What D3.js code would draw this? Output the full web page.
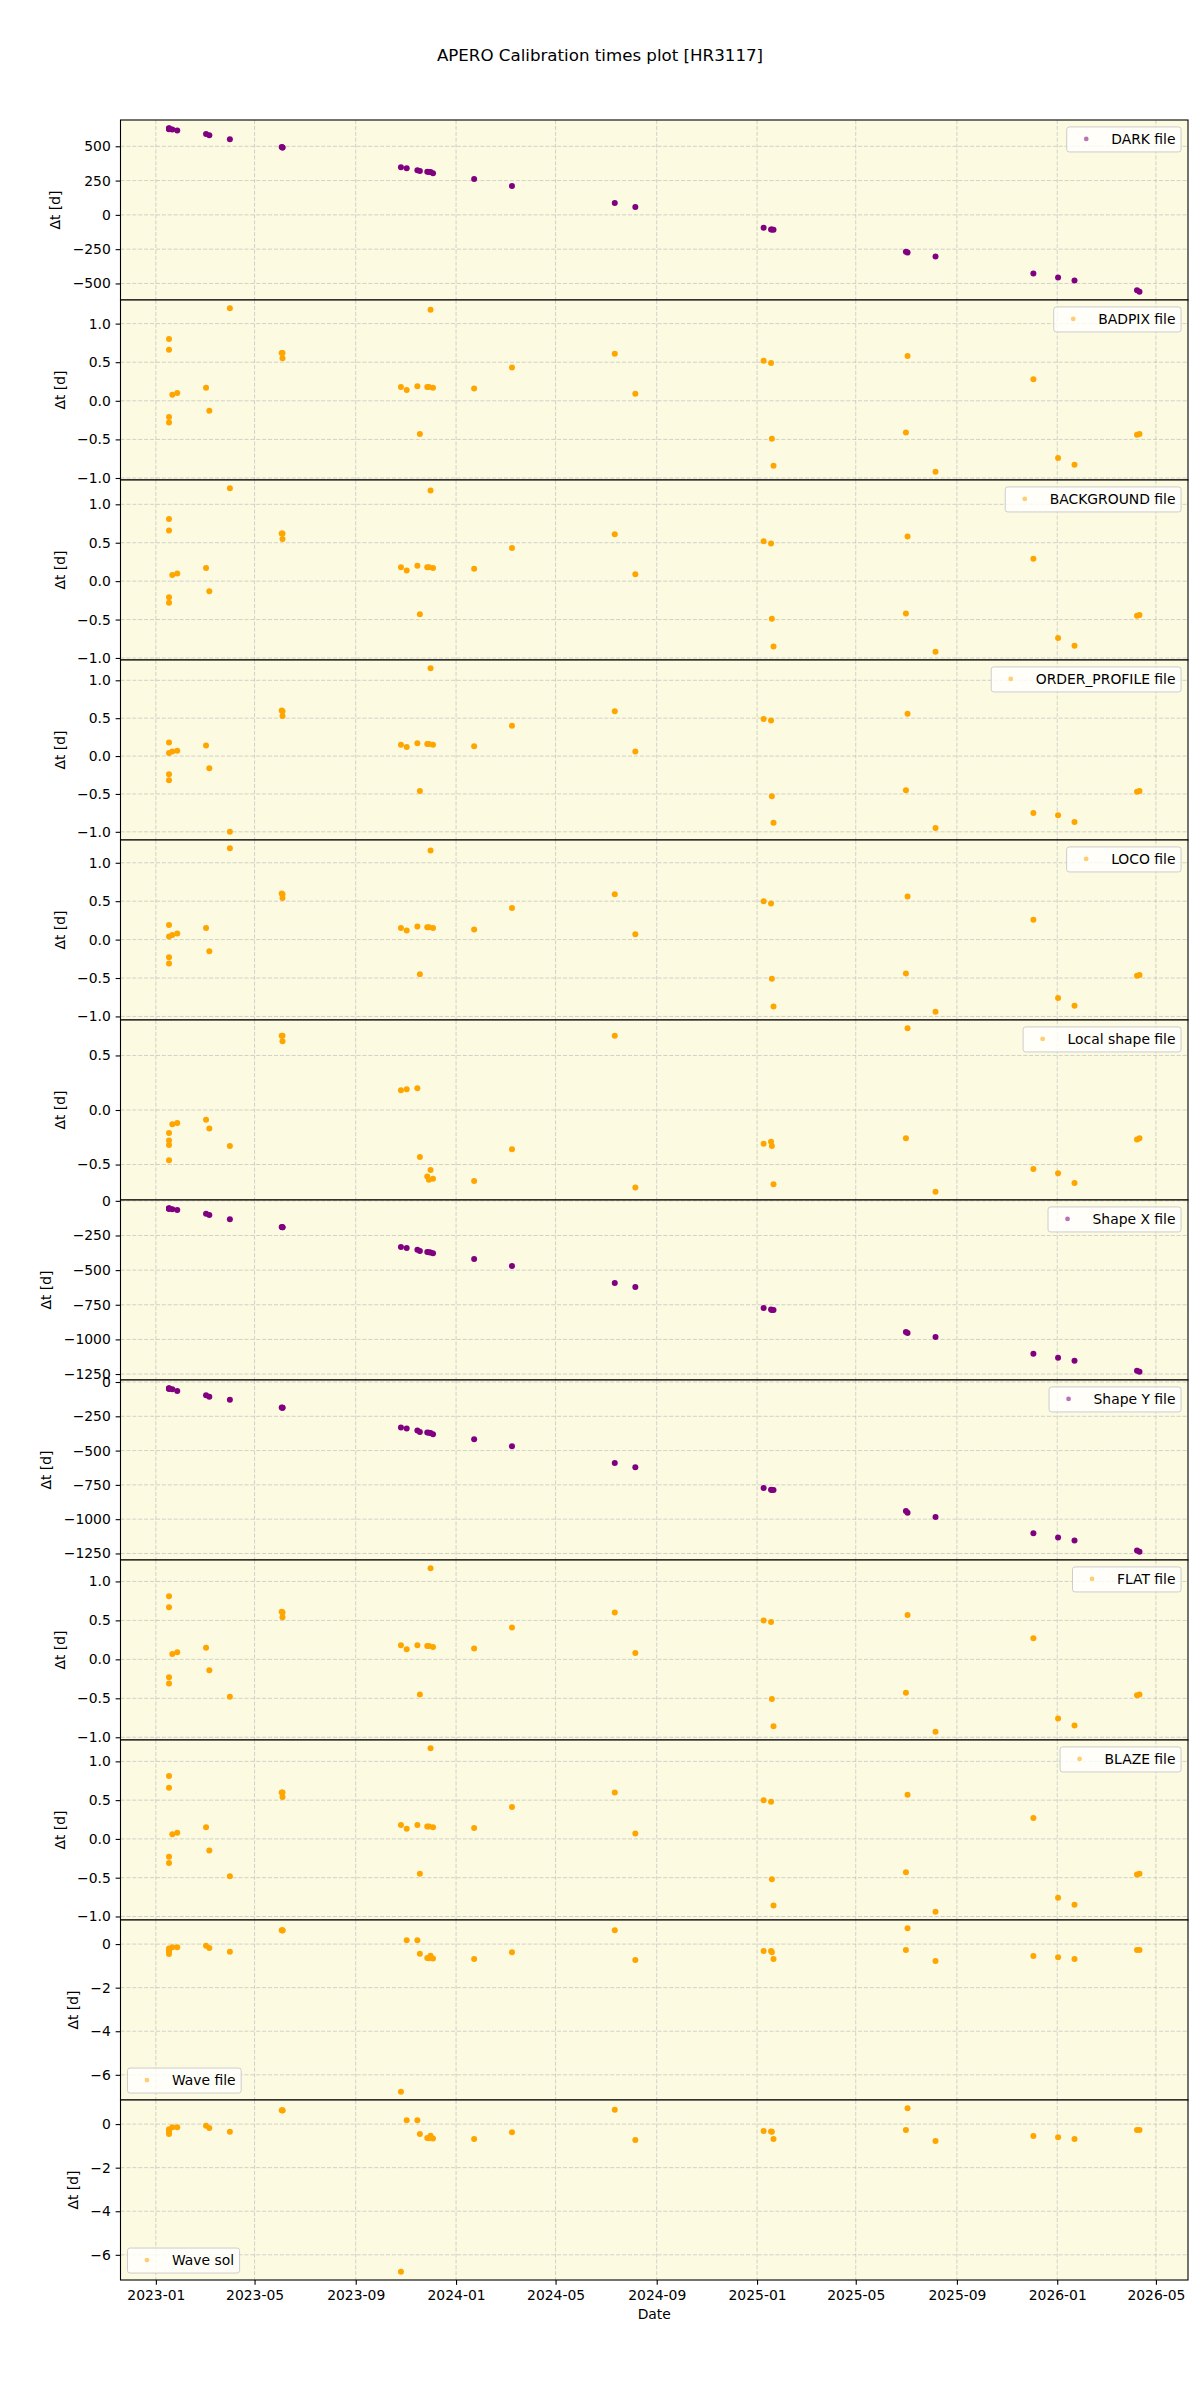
<!DOCTYPE html>
<html><head><meta charset="utf-8">
<script src="https://cdn.jsdelivr.net/npm/d3@7"></script>
<style>
body{margin:0;background:#fff}
svg{display:block}
text{font-family:"DejaVu Sans",sans-serif;fill:#000}
</style>
</head><body>
<svg id="chart" width="1200" height="2400"></svg>
<script>
// ---------- DATA ----------
const obsDates = [
  "2023-01-17","2023-01-17","2023-01-17","2023-01-17","2023-01-21","2023-01-27",
  "2023-03-03","2023-03-07","2023-04-01","2023-06-03","2023-06-04","2023-06-04",
  "2023-10-26","2023-11-02","2023-11-15","2023-11-18","2023-11-27","2023-11-29",
  "2023-12-01","2023-12-04","2024-01-23","2024-03-09","2024-07-12","2024-08-06",
  "2025-01-09","2025-01-18","2025-01-19","2025-01-21","2025-07-01","2025-07-03",
  "2025-08-06","2025-12-03","2026-01-02","2026-01-22","2026-04-08","2026-04-11"
];
const darkFile = [632,629,627,625,623,616,589,580,551,494,492,491,348,340,326,319,314,313,312,304,261,210,87,58,-94,-106,-107,-109,-268,-275,-304,-428,-457,-478,-549,-561];
const badpixFile = [0.80,0.66,-0.21,-0.28,0.08,0.10,0.17,-0.13,1.20,0.62,0.62,0.55,0.18,0.14,0.19,-0.43,0.18,0.18,1.18,0.17,0.16,0.43,0.61,0.09,0.52,0.49,-0.49,-0.84,-0.41,0.58,-0.92,0.28,-0.74,-0.83,-0.44,-0.43];
const backgroundFile = [0.81,0.66,-0.21,-0.28,0.08,0.10,0.17,-0.13,1.21,0.62,0.62,0.55,0.18,0.14,0.20,-0.43,0.18,0.18,1.18,0.17,0.16,0.43,0.61,0.09,0.52,0.49,-0.49,-0.85,-0.42,0.58,-0.92,0.29,-0.74,-0.84,-0.45,-0.44];
const orderProfileFile = [0.18,0.04,-0.24,-0.32,0.06,0.07,0.14,-0.16,-1.00,0.60,0.59,0.53,0.15,0.12,0.17,-0.46,0.16,0.16,1.16,0.15,0.13,0.40,0.59,0.06,0.49,0.47,-0.53,-0.88,-0.45,0.56,-0.95,-0.75,-0.78,-0.87,-0.47,-0.46];
const locoFile = [0.19,0.04,-0.23,-0.31,0.06,0.08,0.15,-0.15,1.19,0.60,0.59,0.54,0.15,0.12,0.17,-0.45,0.16,0.16,1.16,0.15,0.13,0.41,0.59,0.07,0.50,0.47,-0.51,-0.87,-0.44,0.56,-0.94,0.26,-0.76,-0.86,-0.47,-0.46];
const localShapeFile = [-0.21,-0.28,-0.32,-0.46,-0.13,-0.12,-0.09,-0.17,-0.33,0.68,0.68,0.63,0.18,0.19,0.20,-0.43,-0.61,-0.64,-0.55,-0.63,-0.65,-0.36,0.68,-0.71,-0.31,-0.29,-0.33,-0.68,-0.26,0.75,-0.75,-0.54,-0.58,-0.67,-0.27,-0.26];
const shapeXFile = [-53,-55,-57,-58,-60,-67,-94,-103,-132,-189,-190,-191,-334,-341,-353,-362,-370,-371,-372,-379,-420,-470,-593,-622,-773,-785,-787,-788,-946,-953,-982,-1104,-1133,-1154,-1226,-1234];
const shapeYFile = [-45,-47,-49,-50,-52,-65,-97,-107,-129,-186,-187,-188,-331,-339,-354,-364,-368,-370,-371,-381,-418,-468,-590,-622,-772,-785,-787,-788,-941,-954,-984,-1103,-1133,-1155,-1228,-1238];
const flatFile = [0.81,0.67,-0.23,-0.31,0.07,0.09,0.15,-0.14,-0.48,0.61,0.60,0.54,0.18,0.13,0.18,-0.45,0.17,0.17,1.17,0.16,0.14,0.41,0.60,0.08,0.50,0.48,-0.51,-0.86,-0.43,0.57,-0.93,0.27,-0.76,-0.85,-0.46,-0.45];
const blazeFile = [0.81,0.66,-0.23,-0.31,0.06,0.08,0.15,-0.15,-0.48,0.60,0.60,0.54,0.18,0.13,0.18,-0.45,0.16,0.16,1.17,0.15,0.14,0.41,0.60,0.07,0.50,0.48,-0.52,-0.86,-0.43,0.57,-0.94,0.27,-0.76,-0.85,-0.46,-0.45];
const waveFile = [-0.20,-0.28,-0.35,-0.46,-0.15,-0.15,-0.08,-0.18,-0.35,0.63,0.64,0.62,-6.78,0.18,0.18,-0.44,-0.64,-0.65,-0.53,-0.66,-0.69,-0.37,0.64,-0.73,-0.32,-0.32,-0.37,-0.69,-0.27,0.73,-0.78,-0.55,-0.60,-0.69,-0.27,-0.27];
const waveSol = [-0.24,-0.30,-0.36,-0.46,-0.15,-0.15,-0.08,-0.18,-0.35,0.64,0.64,0.62,-6.78,0.18,0.18,-0.46,-0.64,-0.65,-0.53,-0.66,-0.69,-0.37,0.66,-0.73,-0.32,-0.34,-0.35,-0.69,-0.27,0.73,-0.78,-0.55,-0.60,-0.69,-0.27,-0.27];

const panelLabels = ["DARK file","BADPIX file","BACKGROUND file","ORDER_PROFILE file","LOCO file","Local shape file","Shape X file","Shape Y file","FLAT file","BLAZE file","Wave file","Wave sol"];
const ticksDark = [-500,-250,0,250,500];
const ticksUnit = [-1,-0.5,0,0.5,1];
const ticksLocal = [-0.5,0,0.5];
const ticksShape = [-1250,-1000,-750,-500,-250,0];
const ticksWave = [-6,-4,-2,0];
const title = "APERO Calibration times plot [HR3117]";
const yLabel = "Δt [d]";
const xLabel = "Date";

// ---------- STYLE / LAYOUT ----------
const PURPLE = "#800080", ORANGE = "#FFA500", BG = "#fcfbe2";
const L = 120.5, R = 1188, T = 120, PH = 180;
const FS = 13.9;

const panels = [
  {label: panelLabels[0], values: darkFile, color: PURPLE, ticks: ticksDark, loc: "ur"},
  {label: panelLabels[1], values: badpixFile, color: ORANGE, ticks: ticksUnit, loc: "ur"},
  {label: panelLabels[2], values: backgroundFile, color: ORANGE, ticks: ticksUnit, loc: "ur"},
  {label: panelLabels[3], values: orderProfileFile, color: ORANGE, ticks: ticksUnit, loc: "ur"},
  {label: panelLabels[4], values: locoFile, color: ORANGE, ticks: ticksUnit, loc: "ur"},
  {label: panelLabels[5], values: localShapeFile, color: ORANGE, ticks: ticksLocal, loc: "ur"},
  {label: panelLabels[6], values: shapeXFile, color: PURPLE, ticks: ticksShape, loc: "ur"},
  {label: panelLabels[7], values: shapeYFile, color: PURPLE, ticks: ticksShape, loc: "ur"},
  {label: panelLabels[8], values: flatFile, color: ORANGE, ticks: ticksUnit, loc: "ur"},
  {label: panelLabels[9], values: blazeFile, color: ORANGE, ticks: ticksUnit, loc: "ur"},
  {label: panelLabels[10], values: waveFile, color: ORANGE, ticks: ticksWave, loc: "ll"},
  {label: panelLabels[11], values: waveSol, color: ORANGE, ticks: ticksWave, loc: "ll"}
];

const svg = d3.select("#chart");
svg.append("rect").attr("width",1200).attr("height",2400).attr("fill","#fff");

const parse = d3.utcParse("%Y-%m-%d");
const dates = obsDates.map(parse);
const xExt = d3.extent(dates);
const xPad = (xExt[1] - xExt[0]) * 0.05;
const x = d3.scaleUtc().domain([new Date(+xExt[0] - xPad), new Date(+xExt[1] + xPad)]).range([L, R]);
const xTicks = x.ticks(d3.utcMonth.every(4));

svg.append("text").attr("x", 600).attr("y", 60.5).attr("text-anchor","middle")
  .style("font-size","16.67px").text(title);

panels.forEach((p, i) => {
  const top = T + i * PH, bot = top + PH;
  const ext = d3.extent(p.values);
  const pad = (ext[1] - ext[0]) * 0.05;
  const y = d3.scaleLinear().domain([ext[0] - pad, ext[1] + pad]).range([bot, top]);
  const g = svg.append("g");

  g.append("rect").attr("x", L).attr("y", top).attr("width", R - L).attr("height", PH).attr("fill", BG);

  const grid = g.append("g").attr("stroke", "#b0b0b0").attr("stroke-opacity", 0.7)
    .attr("stroke-width", 0.8).attr("stroke-dasharray", "4.1,1.8");
  grid.selectAll("line.v").data(xTicks).join("line").attr("class","v")
    .attr("x1", d => x(d)).attr("x2", d => x(d)).attr("y1", top).attr("y2", bot);
  grid.selectAll("line.h").data(p.ticks).join("line").attr("class","h")
    .attr("x1", L).attr("x2", R).attr("y1", d => y(d)).attr("y2", d => y(d));

  g.append("g").selectAll("circle").data(p.values).join("circle")
    .attr("cx", (d, j) => x(dates[j])).attr("cy", d => y(d)).attr("r", 3)
    .attr("fill", p.color);

  const step = p.ticks[1] - p.ticks[0];
  const fmt = step < 1 ? d3.format(".1f") : d3.format("d");
  const ax = g.append("g").attr("transform", `translate(${L},0)`)
    .call(d3.axisLeft(y).tickValues(p.ticks).tickSize(4.86).tickPadding(4.86).tickFormat(fmt));
  ax.select(".domain").remove();
  ax.selectAll(".tick line").attr("stroke", "#000").attr("stroke-width", 1.1);
  ax.selectAll(".tick text").style("font-size", FS + "px").style("font-family", '"DejaVu Sans",sans-serif').attr("fill","#000");

  let minLeft = 1e9;
  ax.selectAll(".tick text").each(function(){ const b = this.getBBox(); minLeft = Math.min(minLeft, L + b.x); });
  const lx = minLeft - 12.5, ly = (top + bot) / 2;
  g.append("text").attr("transform", `translate(${lx},${ly}) rotate(-90)`)
    .attr("text-anchor", "middle").style("font-size", FS + "px").text(yLabel);

  g.append("rect").attr("x", L).attr("y", top).attr("width", R - L).attr("height", PH)
    .attr("fill", "none").attr("stroke", "#000").attr("stroke-width", 1.1);

  // legend
  const lg = g.append("g");
  const txt = lg.append("text").style("font-size", FS + "px").text(p.label);
  const tw = txt.node().getComputedTextLength();
  const bw = 5.56 + 27.8 + 11.1 + tw + 5.56, bh = 25;
  let bx, by;
  if (p.loc === "ur") { bx = R - 6.95 - bw; by = top + 6.95; }
  else { bx = L + 6.95; by = bot - 6.95 - bh; }
  lg.insert("rect", "text").attr("x", bx).attr("y", by).attr("width", bw).attr("height", bh)
    .attr("rx", 2.5).attr("fill", "#fff").attr("fill-opacity", 0.8)
    .attr("stroke", "#cccccc").attr("stroke-width", 1);
  lg.insert("circle", "text").attr("cx", bx + 19.5).attr("cy", by + bh / 2 - 0.5).attr("r", 2.4)
    .attr("fill", p.color).attr("fill-opacity", 0.55);
  txt.attr("x", bx + 44.5).attr("y", by + 17);
});

// bottom x axis
const bottom = T + panels.length * PH;
const xa = svg.append("g").attr("transform", `translate(0,${bottom})`)
  .call(d3.axisBottom(x).tickValues(xTicks).tickSize(4.86).tickPadding(4.86).tickFormat(d3.utcFormat("%Y-%m")));
xa.select(".domain").remove();
xa.selectAll(".tick line").attr("stroke", "#000").attr("stroke-width", 1.1);
xa.selectAll(".tick text").style("font-size", FS + "px").style("font-family", '"DejaVu Sans",sans-serif').attr("fill","#000");
svg.append("text").attr("x", (L + R) / 2).attr("y", bottom + 39).attr("text-anchor", "middle")
  .style("font-size", FS + "px").text(xLabel);
</script>
</body></html>
